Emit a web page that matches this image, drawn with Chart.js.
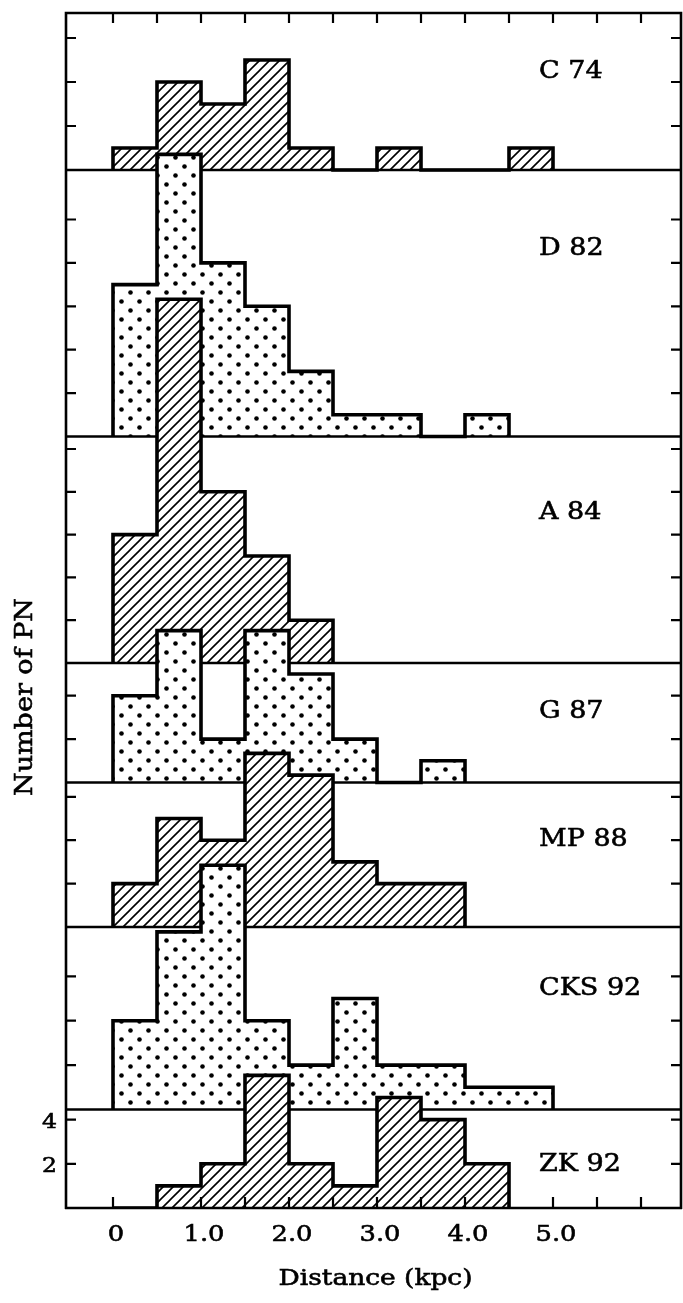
<!DOCTYPE html>
<html>
<head>
<meta charset="utf-8">
<script src="https://cdn.jsdelivr.net/npm/chart.js@4.4.1/dist/chart.umd.min.js"></script>
<style>
  html, body { margin: 0; padding: 0; background: #ffffff; }
  canvas { display: block; }
</style>
</head>
<body>
<canvas id="c" width="683" height="1303"></canvas>
<script>
// ---------------- DATA ----------------
// bin left edges (kpc); each bin is 0.5 kpc wide
const binEdges = [0, 0.5, 1.0, 1.5, 2.0, 2.5, 3.0, 3.5, 4.0, 4.5, 5.0];
const panelNames = ['C 74', 'D 82', 'A 84', 'G 87', 'MP 88', 'CKS 92', 'ZK 92'];
// number of PN per bin, starting at 0 kpc
const c74   = [1, 4, 3, 5, 1, 0, 1, 0, 0, 1];
const d82   = [7, 13, 8, 6, 3, 1, 1, 0, 1];
const a84   = [6, 17, 8, 5, 2];
const g87   = [4, 7, 2, 7, 5, 2, 0, 1];
const mp88  = [2, 5, 4, 8, 7, 3, 2, 2];
const cks92 = [4, 8, 11, 4, 2, 5, 2, 2, 1, 1];
const zk92  = [0, 1, 2, 6, 2, 1, 5, 4, 2];
const series = [c74, d82, a84, g87, mp88, cks92, zk92];
const panelFill = ['hatch', 'dots', 'hatch', 'dots', 'hatch', 'dots', 'hatch'];
// tick marks on the vertical frame for each panel (counts)
const panelYTicks = [[2, 4, 6], [2, 4, 6, 8, 10], [2, 4, 6, 8, 10], [2, 4], [2, 4, 6], [2, 4, 6], [2, 4]];
// labelled count ticks (bottom panel only)
const yTickValues = [4, 2];
const yTickLabels = ['4', '2'];
// distance axis
const xTickValues = [0, 1, 2, 3, 4, 5];
const xTickLabels = ['0', '1.0', '2.0', '3.0', '4.0', '5.0'];
const xMinorTicks = [0, 0.5, 1, 1.5, 2, 2.5, 3, 3.5, 4, 4.5, 5, 5.5, 6];
const xTitle = 'Distance (kpc)';
const yTitle = 'Number of PN';

// ---------------- LAYOUT ----------------
const AREA = { left: 66, right: 681, top: 13, bottom: 1208 };
const X_ZERO_PX = 113, PX_PER_KPC = 88;
const panelBasePx = [170, 436.5, 663, 782.5, 927, 1109.5, 1208];
const panelUnitPx = [22, 21.7, 21.4, 21.7, 21.7, 22.2, 22.1];
const labelPos = [[539, 78], [539, 255], [539, 519], [539, 718], [539, 846], [539, 995], [539, 1171]];
const SERIF = '"DejaVu Serif", "Liberation Serif", serif';
const STRETCH = 1.12;

// ---------------- PATTERNS ----------------
const mainCtx = document.getElementById('c').getContext('2d');
function hatchPattern() {
  const s = 10, c = document.createElement('canvas');
  c.width = s; c.height = s;
  const g = c.getContext('2d');
  g.fillStyle = '#fff'; g.fillRect(0, 0, s, s);
  g.strokeStyle = '#000'; g.lineWidth = 1.6;
  g.beginPath();
  g.moveTo(-2, s + 2); g.lineTo(s + 2, -2);
  g.moveTo(-2, 2); g.lineTo(2, -2);
  g.moveTo(s - 2, s + 2); g.lineTo(s + 2, s - 2);
  g.stroke();
  return mainCtx.createPattern(c, 'repeat');
}
function dotPattern() {
  const s = 18, c = document.createElement('canvas');
  c.width = s; c.height = s;
  const g = c.getContext('2d');
  g.fillStyle = '#fff'; g.fillRect(0, 0, s, s);
  g.fillStyle = '#000';
  [[4.5, 4.5], [13.5, 13.5]].forEach(([x, y]) => { g.beginPath(); g.arc(x, y, 2.3, 0, Math.PI * 2); g.fill(); });
  return mainCtx.createPattern(c, 'repeat');
}
const patterns = { hatch: hatchPattern(), dots: dotPattern() };

// ---------------- HISTOGRAM OUTLINES ----------------
function stepPoints(values) {
  const pts = [{ x: binEdges[0], y: 0 }];
  values.forEach((v, i) => pts.push({ x: binEdges[i], y: v }));
  pts.push({ x: binEdges[values.length], y: 0 });
  return pts;
}

const scales = {
  x: { type: 'linear', display: false, bounds: 'data',
       min: (AREA.left - X_ZERO_PX) / PX_PER_KPC, max: (AREA.right - X_ZERO_PX) / PX_PER_KPC }
};
series.forEach((s, k) => {
  scales['y' + k] = { type: 'linear', display: false, bounds: 'data',
    min: -(AREA.bottom - panelBasePx[k]) / panelUnitPx[k],
    max: (panelBasePx[k] - AREA.top) / panelUnitPx[k] };
});

const datasets = series.map((vals, k) => ({
  label: panelNames[k],
  data: stepPoints(vals),
  xAxisID: 'x', yAxisID: 'y' + k,
  stepped: 'before',
  fill: 'origin',
  backgroundColor: patterns[panelFill[k]],
  borderColor: '#000', borderWidth: 3.6,
  borderJoinStyle: 'miter', borderCapStyle: 'butt',
  pointRadius: 0, pointHoverRadius: 0,
  order: series.length - k
}));

function txt(ctx, s, x, y, align, font, sx) {
  ctx.save();
  ctx.font = font; ctx.fillStyle = '#000'; ctx.strokeStyle = '#000'; ctx.lineWidth = 0.6;
  ctx.translate(x, y); ctx.scale(sx, 1);
  ctx.textAlign = align; ctx.textBaseline = 'alphabetic';
  ctx.fillText(s, 0, 0);
  ctx.strokeText(s, 0, 0);
  ctx.restore();
}

const deco = {
  id: 'deco',
  afterDatasetDraw(chart, args) {
    const ctx = chart.ctx, ca = chart.chartArea;
    const y = chart.scales['y' + args.index].getPixelForValue(0);
    ctx.save();
    ctx.strokeStyle = '#000'; ctx.lineWidth = 2.6;
    ctx.beginPath(); ctx.moveTo(ca.left - 1, y); ctx.lineTo(ca.right + 1, y); ctx.stroke();
    ctx.restore();
  },
  afterDatasetsDraw(chart) {
    const ctx = chart.ctx, ca = chart.chartArea, xs = chart.scales.x;
    ctx.save();
    ctx.strokeStyle = '#000'; ctx.lineCap = 'butt';
    // frame
    ctx.lineWidth = 2.6;
    ctx.beginPath();
    ctx.moveTo(ca.left, ca.bottom + 1); ctx.lineTo(ca.left, ca.top); ctx.lineTo(ca.right, ca.top); ctx.lineTo(ca.right, ca.bottom + 1);
    ctx.stroke();
    // distance ticks (inward)
    ctx.lineWidth = 2.2;
    ctx.beginPath();
    xMinorTicks.forEach(v => {
      const px = xs.getPixelForValue(v);
      if (px <= ca.left + 2 || px >= ca.right - 2) return;
      ctx.moveTo(px, ca.top); ctx.lineTo(px, ca.top + 10);
      ctx.moveTo(px, ca.bottom); ctx.lineTo(px, ca.bottom - 11);
    });
    // count ticks (inward, both sides)
    panelYTicks.forEach((list, k) => {
      const ys = chart.scales['y' + k];
      list.forEach(v => {
        const py = ys.getPixelForValue(v);
        ctx.moveTo(ca.left, py); ctx.lineTo(ca.left + 10, py);
        ctx.moveTo(ca.right, py); ctx.lineTo(ca.right - 10, py);
      });
    });
    ctx.stroke();
    ctx.restore();

    // distance tick labels
    xTickValues.forEach((v, i) => {
      txt(ctx, xTickLabels[i], xs.getPixelForValue(v) + 3, 1241, 'center', '23px ' + SERIF, STRETCH);
    });
    // count tick labels (bottom panel)
    const yz = chart.scales['y' + (series.length - 1)];
    yTickValues.forEach((v, i) => {
      txt(ctx, yTickLabels[i], 57, yz.getPixelForValue(v) + 8, 'right', '21px ' + SERIF, STRETCH);
    });
    // panel labels
    panelNames.forEach((n, k) => {
      txt(ctx, n, labelPos[k][0], labelPos[k][1], 'left', '25px ' + SERIF, 1.08);
    });
    // axis titles
    txt(ctx, xTitle, (ca.left + ca.right) / 2 + 2, 1285, 'center', '23px ' + SERIF, 1.15);
    ctx.save();
    ctx.font = '25px ' + SERIF; ctx.fillStyle = '#000'; ctx.strokeStyle = '#000'; ctx.lineWidth = 0.6;
    ctx.translate(25, 697); ctx.rotate(-Math.PI / 2); ctx.scale(1.08, 1);
    ctx.textAlign = 'center'; ctx.textBaseline = 'middle';
    ctx.fillText(yTitle, 0, 0);
    ctx.strokeText(yTitle, 0, 0);
    ctx.restore();
  }
};

new Chart(document.getElementById('c'), {
  type: 'line',
  data: { datasets },
  options: {
    responsive: false,
    devicePixelRatio: 1,
    animation: false,
    events: [],
    layout: { padding: { left: AREA.left, right: 683 - AREA.right, top: AREA.top, bottom: 1303 - AREA.bottom } },
    scales,
    plugins: { legend: { display: false }, tooltip: { enabled: false }, title: { display: false } }
  },
  plugins: [deco]
});
</script>
</body>
</html>
